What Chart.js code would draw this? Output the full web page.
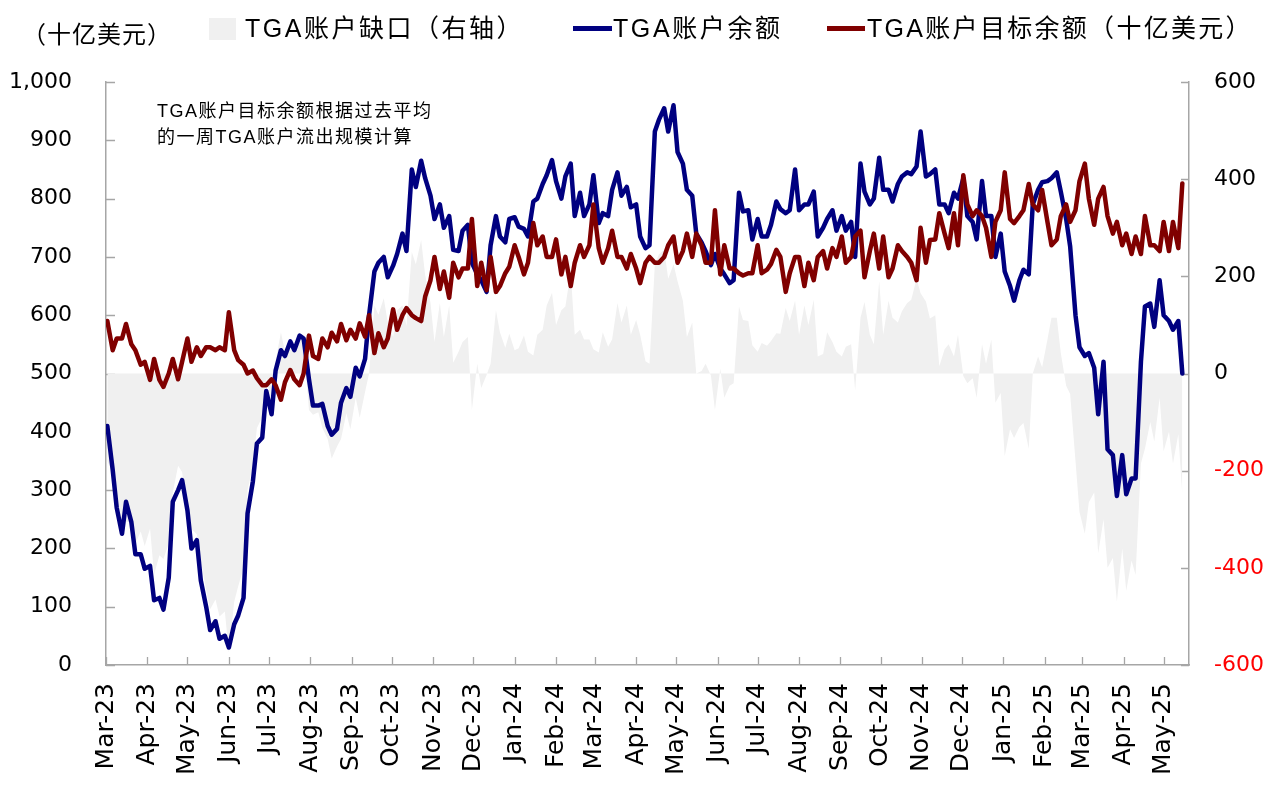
<!DOCTYPE html>
<html>
<head>
<meta charset="utf-8">
<script src="https://cdn.jsdelivr.net/npm/chart.js@4.4.1/dist/chart.umd.min.js"></script>
<style>
html,body{margin:0;padding:0;background:#fff;}
#wrap{position:relative;width:1280px;height:786px;overflow:hidden;background:#fff;}
#c{position:absolute;left:0;top:0;}
.t{position:absolute;white-space:nowrap;font-family:"Liberation Sans","Noto Sans CJK SC",sans-serif;color:#000;line-height:1;}
.sw{position:absolute;}
</style>
</head>
<body>
<div id="wrap">
  <canvas id="c" width="1280" height="786"></canvas>
  <div class="t" style="left:22px;top:23px;font-size:24px;letter-spacing:1px;">（十亿美元）</div>
  <div class="sw" style="left:209px;top:18px;width:27px;height:22px;background:#f0f0f0;"></div>
  <div class="t" style="left:245px;top:16px;font-size:25px;letter-spacing:2.5px;">TGA账户缺口（右轴）</div>
  <div class="sw" style="left:573px;top:26px;width:39px;height:5px;background:#000080;"></div>
  <div class="t" style="left:613px;top:16px;font-size:25px;letter-spacing:2.6px;">TGA账户余额</div>
  <div class="sw" style="left:827px;top:26px;width:38px;height:5px;background:#800000;"></div>
  <div class="t" style="left:867px;top:16px;font-size:25px;letter-spacing:2.3px;">TGA账户目标余额（十亿美元）</div>
  <div class="t" style="left:157px;top:98px;font-size:18px;letter-spacing:1.5px;line-height:26px;">TGA账户目标余额根据过去平均<br>的一周TGA账户流出规模计算</div>
</div>
<script>
const dates = [
 '2023-03-02','2023-03-06','2023-03-09','2023-03-13','2023-03-16','2023-03-20','2023-03-23','2023-03-27','2023-03-30',
 '2023-04-03','2023-04-06','2023-04-10','2023-04-13','2023-04-17','2023-04-20','2023-04-24','2023-04-27',
 '2023-05-01','2023-05-04','2023-05-08','2023-05-11','2023-05-15','2023-05-18','2023-05-22','2023-05-25','2023-05-29',
 '2023-06-01','2023-06-05','2023-06-08','2023-06-12','2023-06-15','2023-06-19','2023-06-22','2023-06-26','2023-06-29',
 '2023-07-03','2023-07-06','2023-07-10','2023-07-13','2023-07-17','2023-07-20','2023-07-24','2023-07-27','2023-07-31',
 '2023-08-03','2023-08-07','2023-08-10','2023-08-14','2023-08-17','2023-08-21','2023-08-24','2023-08-28','2023-08-31',
 '2023-09-04','2023-09-07','2023-09-11','2023-09-14','2023-09-18','2023-09-21','2023-09-25','2023-09-28',
 '2023-10-02','2023-10-05','2023-10-09','2023-10-12','2023-10-16','2023-10-19','2023-10-23','2023-10-26','2023-10-30',
 '2023-11-02','2023-11-06','2023-11-09','2023-11-13','2023-11-16','2023-11-20','2023-11-23','2023-11-27','2023-11-30',
 '2023-12-04','2023-12-07','2023-12-11','2023-12-14','2023-12-18','2023-12-21','2023-12-25','2023-12-28',
 '2024-01-01','2024-01-04','2024-01-08','2024-01-11','2024-01-15','2024-01-18','2024-01-22','2024-01-25','2024-01-29',
 '2024-02-01','2024-02-05','2024-02-08','2024-02-12','2024-02-15','2024-02-19','2024-02-22','2024-02-26','2024-02-29',
 '2024-03-04','2024-03-07','2024-03-11','2024-03-14','2024-03-18','2024-03-21','2024-03-25','2024-03-28',
 '2024-04-01','2024-04-04','2024-04-08','2024-04-11','2024-04-15','2024-04-18','2024-04-22','2024-04-25','2024-04-29',
 '2024-05-02','2024-05-06','2024-05-09','2024-05-13','2024-05-16','2024-05-20','2024-05-23','2024-05-27','2024-05-30',
 '2024-06-03','2024-06-06','2024-06-10','2024-06-13','2024-06-17','2024-06-20','2024-06-24','2024-06-27',
 '2024-07-01','2024-07-04','2024-07-08','2024-07-11','2024-07-15','2024-07-18','2024-07-22','2024-07-25','2024-07-29',
 '2024-08-01','2024-08-05','2024-08-08','2024-08-12','2024-08-15','2024-08-19','2024-08-22','2024-08-26','2024-08-29',
 '2024-09-02','2024-09-05','2024-09-09','2024-09-12','2024-09-16','2024-09-19','2024-09-23','2024-09-26','2024-09-30',
 '2024-10-03','2024-10-07','2024-10-10','2024-10-14','2024-10-17','2024-10-21','2024-10-24','2024-10-28','2024-10-31',
 '2024-11-04','2024-11-07','2024-11-11','2024-11-14','2024-11-18','2024-11-21','2024-11-25','2024-11-28',
 '2024-12-02','2024-12-05','2024-12-09','2024-12-12','2024-12-16','2024-12-19','2024-12-23','2024-12-26','2024-12-30',
 '2025-01-02','2025-01-06','2025-01-09','2025-01-13','2025-01-16','2025-01-20','2025-01-23','2025-01-27','2025-01-30',
 '2025-02-03','2025-02-06','2025-02-10','2025-02-13','2025-02-17','2025-02-20','2025-02-24','2025-02-27',
 '2025-03-03','2025-03-06','2025-03-10','2025-03-13','2025-03-17','2025-03-20','2025-03-24','2025-03-27','2025-03-31',
 '2025-04-03','2025-04-07','2025-04-10','2025-04-14','2025-04-17','2025-04-21','2025-04-24','2025-04-28',
 '2025-05-01','2025-05-05','2025-05-08','2025-05-12','2025-05-15'
];

// TGA账户余额 (left axis, $bn)
const tgaBalance = [
 410,335,270,225,280,245,190,190,165,
 170,111,115,95,150,280,300,317,
 265,200,214,145,100,60,75,45,50,
 30,70,85,115,260,315,380,390,470,
 430,505,540,530,555,540,565,560,490,
 445,445,448,410,395,405,450,475,460,
 510,495,525,600,675,690,700,665,
 685,705,740,710,850,820,865,835,805,
 765,790,750,770,712,710,745,755,690,
 670,660,640,720,770,735,725,765,
 768,752,748,735,795,800,825,840,866,
 830,800,838,860,770,810,770,790,840,
 758,775,770,815,845,805,820,785,
 790,735,715,720,915,935,955,915,960,
 880,860,815,805,740,725,710,686,705,
 680,670,655,660,810,778,780,730,
 765,735,735,755,795,782,775,780,850,
 780,790,790,812,735,750,765,780,745,
 770,745,760,700,860,812,790,800,870,
 815,815,795,825,838,845,842,855,915,
 838,842,850,790,790,775,810,800,
 835,770,760,730,830,770,770,700,740,
 675,650,625,660,678,670,790,815,828,
 830,835,845,812,765,718,600,545,
 530,535,510,430,520,370,360,290,360,
 293,320,320,520,615,620,580,660,
 600,590,575,590,500
];

// TGA账户目标余额 (left axis, $bn)
const tgaTarget = [
 590,540,560,560,585,550,540,515,520,
 489,525,489,477,500,525,490,520,
 560,520,545,530,545,545,540,545,540,
 605,540,523,515,500,505,492,480,480,
 490,480,455,485,506,490,480,500,565,
 530,525,560,545,570,555,585,557,575,
 560,586,563,600,535,569,545,560,
 610,575,600,612,600,595,590,632,660,
 700,645,675,630,690,665,680,680,765,
 650,690,643,700,640,650,672,683,
 720,700,670,690,758,720,735,700,700,
 730,670,700,650,690,720,700,720,790,
 715,690,715,745,700,700,680,705,
 680,655,690,700,690,690,700,720,735,
 690,710,740,700,740,720,690,690,780,
 670,720,680,680,672,668,672,672,
 720,672,678,688,712,700,640,672,700,
 700,650,690,660,700,710,680,715,700,
 735,690,700,735,745,665,710,740,680,
 735,665,680,720,710,700,690,660,750,
 690,729,730,775,740,715,775,720,
 840,790,770,780,770,750,700,760,780,
 845,765,758,770,780,825,790,780,815,
 760,720,730,770,790,760,780,830,
 860,800,755,800,820,770,740,760,720,
 740,705,735,705,770,720,720,710,
 760,710,760,715,826
];

// TGA账户缺口 (right axis, $bn)
const tgaGap = [
 -180,-205,-290,-335,-305,-305,-350,-325,-355,
 -319,-414,-374,-382,-350,-245,-190,-203,
 -295,-320,-331,-385,-445,-485,-465,-500,-490,
 -575,-470,-438,-400,-240,-190,-112,-90,-10,
 -60,25,85,45,49,50,85,60,-75,
 -85,-80,-112,-135,-175,-150,-135,-82,-115,
 -50,-91,-38,0,140,121,155,105,
 75,130,140,98,250,225,275,203,145,
 65,145,75,140,22,45,65,75,-75,
 20,-30,-3,20,130,85,53,82,
 48,52,78,45,37,80,90,140,166,
 100,130,138,210,80,90,70,70,50,
 43,85,55,70,145,105,140,80,
 110,80,25,20,225,245,255,195,225,
 190,150,75,105,0,5,20,-4,-75,
 10,-50,-25,-20,138,110,108,58,
 45,63,57,67,83,82,135,108,150,
 80,140,100,152,35,40,85,65,45,
 35,55,60,-35,115,147,80,60,190,
 80,150,115,105,128,145,152,195,165,
 148,113,120,15,50,60,35,80,
 -5,-20,-10,-50,60,20,70,-60,-40,
 -170,-115,-133,-110,-102,-155,0,35,13,
 70,115,115,42,-25,-42,-180,-285,
 -330,-265,-245,-370,-300,-400,-380,-470,-360,
 -447,-385,-415,-185,-155,-100,-140,-50,
 -160,-120,-185,-125,-250
];

// x-axis month ticks
const monthTickDates = [
 '2023-03-01','2023-04-01','2023-05-01','2023-06-01','2023-07-01','2023-08-01','2023-09-01','2023-10-01','2023-11-01','2023-12-01',
 '2024-01-01','2024-02-01','2024-03-01','2024-04-01','2024-05-01','2024-06-01','2024-07-01','2024-08-01','2024-09-01','2024-10-01','2024-11-01','2024-12-01',
 '2025-01-01','2025-02-01','2025-03-01','2025-04-01','2025-05-01'
];
const monthTickLabels = [
 'Mar-23','Apr-23','May-23','Jun-23','Jul-23','Aug-23','Sep-23','Oct-23','Nov-23','Dec-23',
 'Jan-24','Feb-24','Mar-24','Apr-24','May-24','Jun-24','Jul-24','Aug-24','Sep-24','Oct-24','Nov-24','Dec-24',
 'Jan-25','Feb-25','Mar-25','Apr-25','May-25'
];
const axisStartDate = '2023-03-01';
const axisEndDay = 811;

// ---- helpers ----
const DAY = 86400000;
function dayNum(s){ const p = s.split('-').map(Number); return Date.UTC(p[0], p[1]-1, p[2]) / DAY; }
const base = dayNum(axisStartDate);
const xDays = dates.map(d => dayNum(d) - base);
const monthTickDays = monthTickDates.map(d => dayNum(d) - base);
const toPoints = arr => arr.map((v, i) => ({x: xDays[i], y: v}));

const AXIS_COLOR = '#a6a6a6';

const inwardTicks = {
  id: 'inwardTicks',
  beforeDatasetsDraw(chart){
    const ctx = chart.ctx, a = chart.chartArea;
    ctx.save();
    ctx.strokeStyle = AXIS_COLOR;
    ctx.lineWidth = 1.3;
    ctx.beginPath();
    const sx = chart.scales.x;
    sx.ticks.forEach(t => {
      const p = Math.round(sx.getPixelForValue(t.value)) + 0.5;
      ctx.moveTo(p, a.bottom); ctx.lineTo(p, a.bottom - 8);
    });
    const sl = chart.scales.y;
    sl.ticks.forEach(t => {
      const p = Math.round(sl.getPixelForValue(t.value)) + 0.5;
      ctx.moveTo(a.left, p); ctx.lineTo(a.left + 9, p);
    });
    const sr = chart.scales.y2;
    sr.ticks.forEach(t => {
      const p = Math.round(sr.getPixelForValue(t.value)) + 0.5;
      ctx.moveTo(a.right, p); ctx.lineTo(a.right - 8, p);
    });
    ctx.stroke();
    ctx.restore();
  }
};

const tickFont = {family: 'DejaVu Sans', size: 22};

new Chart(document.getElementById('c'), {
  type: 'line',
  data: {
    datasets: [
      {
        label: 'TGA账户缺口（右轴）',
        data: toPoints(tgaGap),
        yAxisID: 'y2',
        fill: 'origin',
        backgroundColor: '#f0f0f0',
        borderWidth: 0,
        pointRadius: 0,
        tension: 0,
        order: 3
      },
      {
        label: 'TGA账户余额',
        data: toPoints(tgaBalance),
        yAxisID: 'y',
        borderColor: '#000080',
        borderWidth: 4.5,
        borderJoinStyle: 'round',
        borderCapStyle: 'round',
        pointRadius: 0,
        fill: false,
        tension: 0,
        order: 2
      },
      {
        label: 'TGA账户目标余额（十亿美元）',
        data: toPoints(tgaTarget),
        yAxisID: 'y',
        borderColor: '#800000',
        borderWidth: 4.5,
        borderJoinStyle: 'round',
        borderCapStyle: 'round',
        pointRadius: 0,
        fill: false,
        tension: 0,
        order: 1
      }
    ]
  },
  options: {
    responsive: false,
    animation: false,
    devicePixelRatio: 1,
    layout: {padding: {top: 82, left: 0, right: 0, bottom: 0}},
    plugins: {legend: {display: false}, tooltip: {enabled: false}},
    scales: {
      x: {
        type: 'linear',
        min: 0,
        max: axisEndDay,
        afterBuildTicks: s => { s.ticks = monthTickDays.map(v => ({value: v})); },
        afterFit: s => { s.height = 121; },
        grid: {display: true, drawOnChartArea: false, drawTicks: false},
        border: {display: true, color: AXIS_COLOR, width: 1.5},
        ticks: {
          autoSkip: false,
          maxRotation: 90,
          minRotation: 90,
          padding: 18,
          color: '#000',
          font: {family: 'DejaVu Sans', size: 25},
          callback: (v, i) => monthTickLabels[i]
        }
      },
      y: {
        position: 'left',
        min: 0,
        max: 1000,
        afterFit: s => { s.width = 106; },
        grid: {display: true, drawOnChartArea: false, drawTicks: false},
        border: {display: true, color: AXIS_COLOR, width: 1.5},
        ticks: {
          stepSize: 100,
          padding: 34,
          color: '#000',
          font: tickFont,
          callback: v => v.toLocaleString('en-US')
        }
      },
      y2: {
        position: 'right',
        min: -600,
        max: 600,
        afterFit: s => { s.width = 91; },
        grid: {display: true, drawOnChartArea: false, drawTicks: false},
        border: {display: true, color: AXIS_COLOR, width: 1.5},
        ticks: {
          stepSize: 200,
          padding: 25,
          font: tickFont,
          color: c => (c.tick && c.tick.value < 0) ? '#ff0000' : '#000000',
          callback: v => String(v)
        }
      }
    }
  },
  plugins: [inwardTicks]
});
</script>
</body>
</html>
